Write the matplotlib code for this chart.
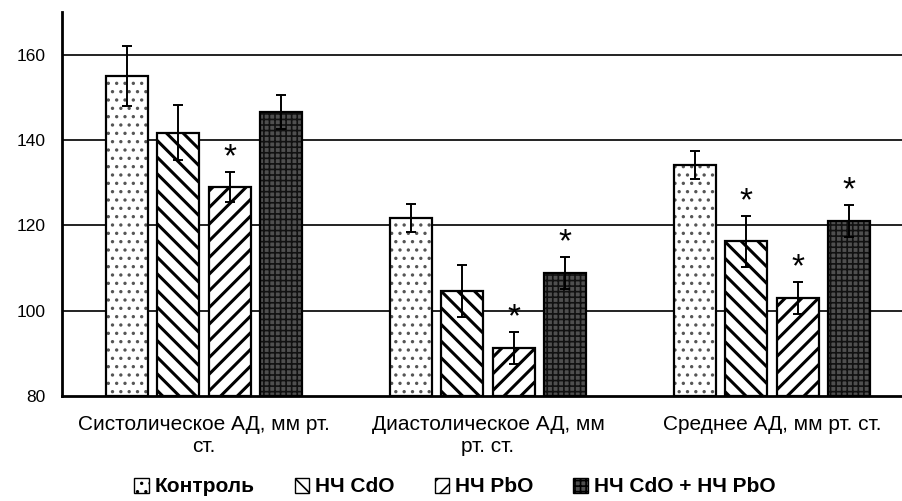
import matplotlib
matplotlib.use("Agg")
import matplotlib.pyplot as plt
import numpy as np
from matplotlib.patches import Patch

plt.rcParams['font.family'] = ['Liberation Sans', 'DejaVu Sans']
plt.rcParams['hatch.linewidth'] = 2.0

categories = ["Систолическое АД, мм рт.\nст.", "Диастолическое АД, мм\nрт. ст.", "Среднее АД, мм рт. ст."]
series = ["Контроль", "НЧ CdO", "НЧ PbO", "НЧ CdO + НЧ PbO"]
control = [155.0, 121.7, 134.2]
cdo = [141.7, 104.6, 116.3]
pbo = [129.0, 91.3, 103.0]
combo = [146.6, 108.8, 121.0]
control_err = [7.0, 3.3, 3.3]
cdo_err = [6.5, 6.0, 6.0]
pbo_err = [3.5, 3.7, 3.7]
combo_err = [4.0, 3.8, 3.8]
# significance stars (1 = marked)
control_star = [0, 0, 0]
cdo_star = [0, 0, 1]
pbo_star = [1, 1, 1]
combo_star = [0, 1, 1]
yticks = [80, 100, 120, 140, 160]

values = [control, cdo, pbo, combo]
errs = [control_err, cdo_err, pbo_err, combo_err]
stars = [control_star, cdo_star, pbo_star, combo_star]
styles = [
    dict(face='white', hatch='..', hcol='#555555'),
    dict(face='white', hatch='\\\\', hcol='black'),
    dict(face='white', hatch='//', hcol='black'),
    dict(face='#4f4f4f', hatch='+++', hcol='#111111'),
]

fig = plt.figure(figsize=(9.02, 5.01), dpi=100)
W, H = 902, 501
ax = fig.add_axes([62 / W, 1 - 396 / H, 852 / W, 384 / H])

x = np.arange(len(categories))
bw = 0.148
step = 0.18
offsets = (np.arange(4) - 1.5) * step

for yv in yticks[1:]:
    ax.axhline(yv, color='#222222', lw=1.4, zorder=0)

for i in range(4):
    st = styles[i]
    xs = x + offsets[i]
    plt.rcParams['hatch.linewidth'] = 1.2 if i in (0, 3) else 2.2
    ax.bar(xs, np.array(values[i]) - 80, bw, bottom=80, color=st['face'],
           hatch=st['hatch'], edgecolor=st['hcol'], linewidth=0, zorder=2)
    ax.bar(xs, np.array(values[i]) - 80, bw, bottom=80, fill=False,
           edgecolor='black', linewidth=1.6, zorder=3)
    ax.errorbar(xs, values[i], yerr=errs[i], fmt='none', ecolor='black',
                elinewidth=1.4, capsize=3.8, capthick=1.4, zorder=4)
    for j in range(len(categories)):
        if stars[i][j]:
            ax.annotate('*', (xs[j], values[i][j] + errs[i][j]), xytext=(0, -1),
                        textcoords='offset points', ha='center', va='bottom',
                        fontsize=24, color='black', zorder=5)

ax.set_xlim(-0.5, 2.5)
ax.set_ylim(80, 170)
ax.set_yticks(yticks)
ax.set_xticks(x)
ax.set_xticklabels(categories, fontsize=15, linespacing=1.2)
ax.tick_params(axis='y', length=0, pad=12, labelsize=12.5)
ax.tick_params(axis='x', length=0, pad=14)
for s in ['top', 'right']:
    ax.spines[s].set_visible(False)
ax.spines['left'].set_linewidth(2)
ax.spines['bottom'].set_linewidth(2)

handles = []
for i in range(4):
    st = styles[i]
    handles.append(Patch(facecolor=st['face'], edgecolor='black', hatch=st['hatch'], linewidth=1.0))
leg = fig.legend(handles, series, loc='center', bbox_to_anchor=(455 / W, 1 - 487 / H), ncol=4,
                 frameon=False, handlelength=0.7, handleheight=0.7, handletextpad=0.3,
                 columnspacing=1.9, prop=dict(weight='bold', size=15))

fig.savefig('out.png', dpi=100)
